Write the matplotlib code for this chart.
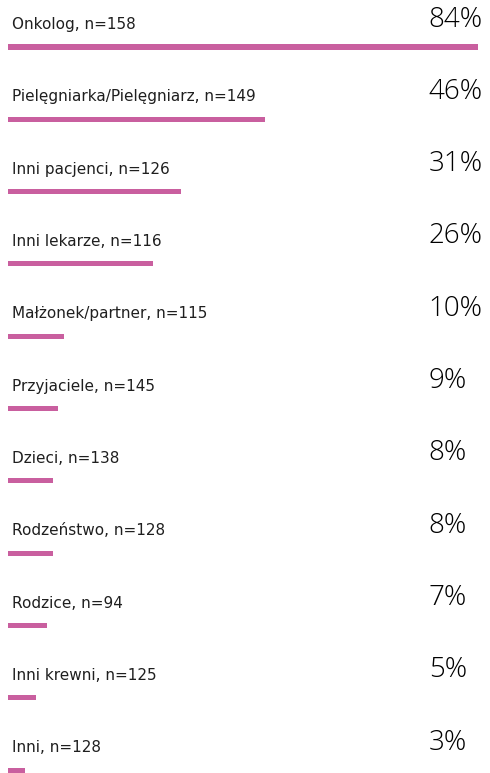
import matplotlib
matplotlib.use("Agg")
import matplotlib.pyplot as plt

categories = [
    "Onkolog, n=158",
    "Pielęgniarka/Pielęgniarz, n=149",
    "Inni pacjenci, n=126",
    "Inni lekarze, n=116",
    "Małżonek/partner, n=115",
    "Przyjaciele, n=145",
    "Dzieci, n=138",
    "Rodzeństwo, n=128",
    "Rodzice, n=94",
    "Inni krewni, n=125",
    "Inni, n=128",
]
values = [84, 46, 31, 26, 10, 9, 8, 8, 7, 5, 3]

bar_color = "#C95F9F"
text_color = "#1f1f1f"

fig = plt.figure(figsize=(4.9, 7.73), dpi=100)
ax = fig.add_axes([0, 0, 1, 1])

rows = list(range(len(values)))
ax.barh(rows, values, height=0.07, color=bar_color, left=0)

for i, (cat, v) in enumerate(zip(categories, values)):
    ax.text(0.8, i - 0.31, cat, fontsize=11, color=text_color,
            family="DejaVu Sans", va="center", ha="left")
    ax.text(75.2, i - 0.38, f"{v}%", fontsize=20, color="black",
            family="Open Sans", weight="light", va="center", ha="left")

ax.set_xlim(-1.43, 86.14)
ax.set_ylim(10.04, -0.65)
ax.axis("off")

plt.savefig("out.png", dpi=100)
